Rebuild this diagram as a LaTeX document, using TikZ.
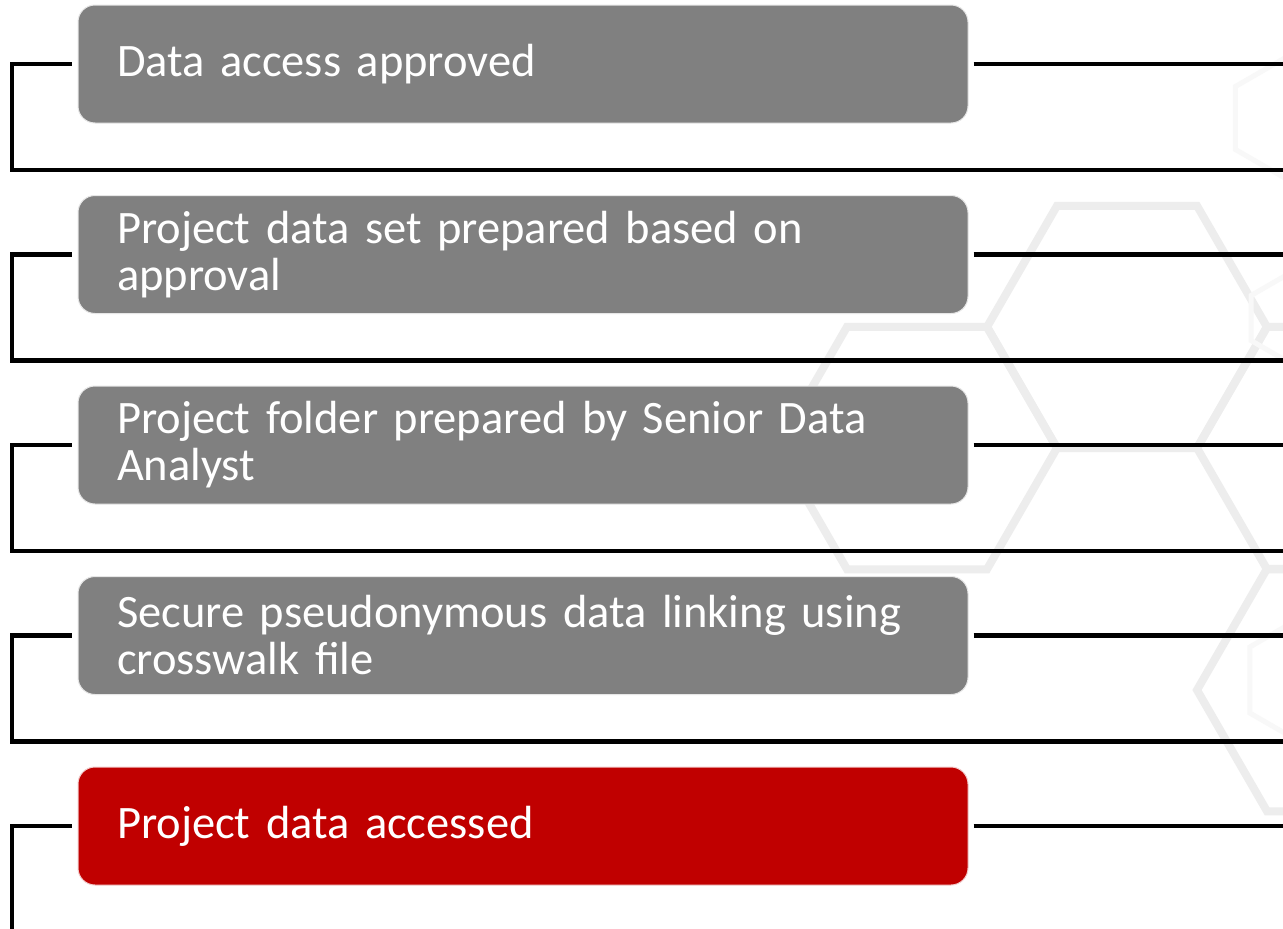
\documentclass[tikz,border=0pt]{standalone}
\usepackage{fontspec}
\setmainfont{Carlito}
\definecolor{boxgray}{HTML}{808080}
\definecolor{boxred}{HTML}{C00000}
\definecolor{hexcol}{HTML}{EDEDED}
\definecolor{hexfaint}{HTML}{F8F8F8}
\begin{document}
\begin{tikzpicture}[x=1pt,y=-1pt,
  stepbox/.style={rectangle, rounded corners=17pt, fill=boxgray, draw=white!80!boxgray, line width=1pt,
    minimum width=890pt, minimum height=118pt, text width=812pt, inner xsep=39pt, inner ysep=0pt,
    align=left, text=white, font=\fontsize{46.5}{47}\selectfont},
  redbox/.style={stepbox, fill=boxred, draw=white!80!boxred},
  conn/.style={line width=4.5pt, black},
  hexline/.style={line width=8pt, hexcol},
  hexsmall/.style={line width=5pt, hexfaint}]
\useasboundingbox (0,0) rectangle (1283,929);
\fill[white] (0,0) rectangle (1283,929);
% background hexagons
\foreach \cx/\cy in {1127/327, 917/448, 1337/448, 1337/690}{
  \draw[hexline] (\cx,\cy) +(0:140) -- +(60:140) -- +(120:140) -- +(180:140) -- +(240:140) -- +(300:140) -- cycle;
}
\foreach \cx/\cy/\r in {1290/118/63, 1290/318/45, 1307/680/66}{
  \draw[hexsmall] (\cx,\cy) +(30:\r) -- +(90:\r) -- +(150:\r) -- +(210:\r) -- +(270:\r) -- +(330:\r) -- cycle;
}
% boxes
\node[stepbox] (b1) at (523,64) {Data access approved};
\node[stepbox] (b2) at (523,254.5) {Project data set prepared based on\\approval};
\node[stepbox] (b3) at (523,445) {Project folder prepared by Senior Data\\Analyst};
\node[stepbox] (b4) at (523,635.5) {Secure pseudonymous data linking using\\crosswalk file};
\node[redbox] (b5) at (523,826) {Project data accessed};
% connector ends
\coordinate (r1) at (1283,64);
\coordinate (r2) at (1283,254.5);
\coordinate (r3) at (1283,445);
\coordinate (r4) at (1283,635.5);
\coordinate (r5) at (1283,826);
\coordinate (e1) at (1283,170);
\coordinate (e2) at (1283,360.5);
\coordinate (e3) at (1283,551);
\coordinate (e4) at (1283,741.5);
\coordinate (e5) at (12,929);
% connectors
\foreach \i in {1,2,3,4}{
  \draw[conn] ([xshift=-6pt]b\i.west) -| ([xshift=12pt]e\i -| 0,0) -- (e\i);
  \draw[conn] ([xshift=5pt]b\i.east) -- (r\i);
}
\draw[conn] ([xshift=-6pt]b5.west) -| (e5);
\draw[conn] ([xshift=5pt]b5.east) -- (r5);
\end{tikzpicture}
\end{document}
